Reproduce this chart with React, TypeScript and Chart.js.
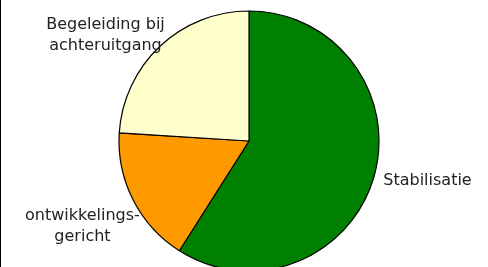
import React, { useEffect, useRef } from "react";
import { Chart, registerables } from "chart.js";

Chart.register(...registerables);

const categories = ["Stabilisatie", "ontwikkelings-\ngericht", "Begeleiding bij\nachteruitgang"];
const shares = [59, 17, 24];
const sliceColors = ["#008000", "#FF9900", "#FFFFCC"];

// label anchors expressed in units of the pie radius, relative to the pie centre
const labelAnchors = [
  [1.373, 0.338],
  [-1.281, 0.605],
  [-1.104, -0.864],
];

const pieLabels = {
  id: "pieLabels",
  afterDatasetsDraw(chart: any) {
    const meta = chart.getDatasetMeta(0);
    const ctx = chart.ctx;
    ctx.save();
    ctx.font = '16px "DejaVu Sans"';
    ctx.fillStyle = "#222";
    ctx.textAlign = "center";
    ctx.textBaseline = "alphabetic";
    meta.data.forEach((arc: any, i: number) => {
      const { x, y, outerRadius } = arc.getProps(["x", "y", "outerRadius"], true);
      const [ax, ay] = labelAnchors[i];
      const lines = String(chart.data.labels[i]).split("\n");
      lines.forEach((ln, j) => {
        ctx.fillText(ln, x + ax * outerRadius, y + ay * outerRadius + j * 21);
      });
    });
    ctx.restore();
  },
};

export default function App() {
  const ref = useRef<HTMLCanvasElement | null>(null);
  useEffect(() => {
    document.body.style.margin = "0";
    const chart = new Chart(ref.current as HTMLCanvasElement, {
      type: "pie",
      data: {
        labels: categories,
        datasets: [
          {
            data: shares,
            backgroundColor: sliceColors,
            borderColor: "#000",
            borderWidth: 1.2,
          },
        ],
      },
      options: {
        responsive: false,
        animation: false,
        radius: 130,
        layout: { padding: { left: 10, right: 0, top: 0, bottom: 0 } },
        plugins: { legend: { display: false }, tooltip: { enabled: false } },
      } as any,
      plugins: [pieLabels],
    });
    return () => chart.destroy();
  }, []);
  return (
    <div style={{ position: "fixed", left: 0, top: 0, width: 488, height: 267, overflow: "hidden", background: "#fff" }}>
      <canvas ref={ref} width={488} height={282} style={{ position: "absolute", left: 0, top: 0, width: 488, height: 282 }} />
      <div style={{ position: "absolute", left: 0, top: 0, width: 1, height: 267, background: "#000" }} />
    </div>
  );
}
